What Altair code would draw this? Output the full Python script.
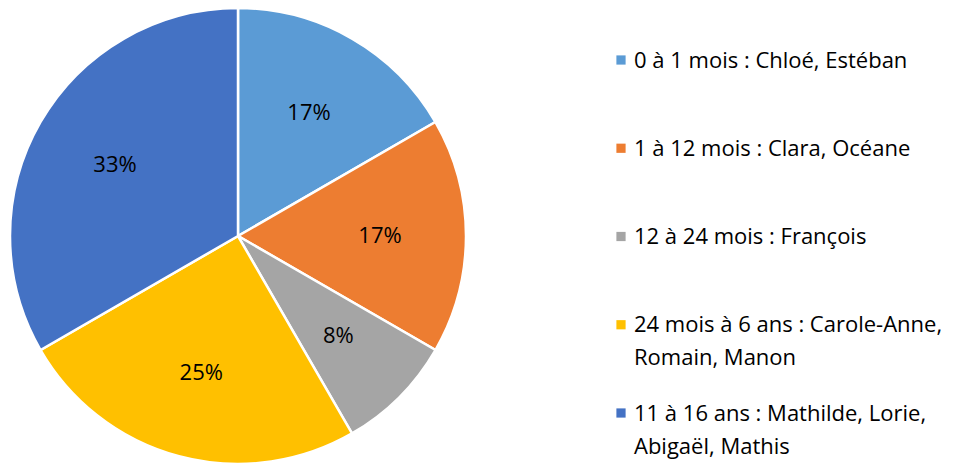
import altair as alt
import pandas as pd

categories = [
    "0 à 1 mois : Chloé, Estéban",
    "1 à 12 mois : Clara, Océane",
    "12 à 24 mois : François",
    "24 mois à 6 ans : Carole-Anne,\nRomain, Manon",
    "11 à 16 ans : Mathilde, Lorie,\nAbigaël, Mathis",
]
counts = [2, 2, 1, 3, 4]
colors = ["#5B9BD5", "#ED7D31", "#A5A5A5", "#FFC000", "#4472C4"]

total = sum(counts)
df = pd.DataFrame({
    "cat": categories,
    "count": counts,
    "order": list(range(len(categories))),
    "pct": [f"{round(c / total * 100)}%" for c in counts],
})

FONT = "Open Sans"
FS = 22
CX, CY, R = 230, 228, 228
color = alt.Color("cat:N", scale=alt.Scale(domain=categories, range=colors), legend=None)

base = alt.Chart(df).encode(
    theta=alt.Theta("count:Q", stack=True),
    order=alt.Order("order:Q"),
    x=alt.value(CX),
    y=alt.value(CY),
)
pie = base.mark_arc(outerRadius=R, stroke="white", strokeWidth=2.5).encode(color=color)
labels = base.mark_text(radius=142, fontSize=FS, font=FONT, color="#000000").encode(text="pct:N")

legend_base = alt.Chart(df).encode(
    y=alt.Y("cat:N", sort=categories, axis=None,
            scale=alt.Scale(domain=categories, range=[52, 405], padding=0)),
)
markers = legend_base.mark_point(shape="square", filled=True, size=85, opacity=1).encode(
    x=alt.value(613), color=color
)
texts = legend_base.mark_text(
    align="left", baseline="alphabetic", dy=7.5, fontSize=FS, font=FONT,
    lineBreak="\n", lineHeight=33, color="#000000"
).encode(x=alt.value(626), text="cat:N")

chart = alt.layer(pie, labels, markers, texts).properties(
    width=952, height=455, padding=0,
    autosize=alt.AutoSizeParams(type="none"),
).configure_view(stroke=None)

chart.save("out.html", embed_options={"renderer": "svg", "actions": False})
